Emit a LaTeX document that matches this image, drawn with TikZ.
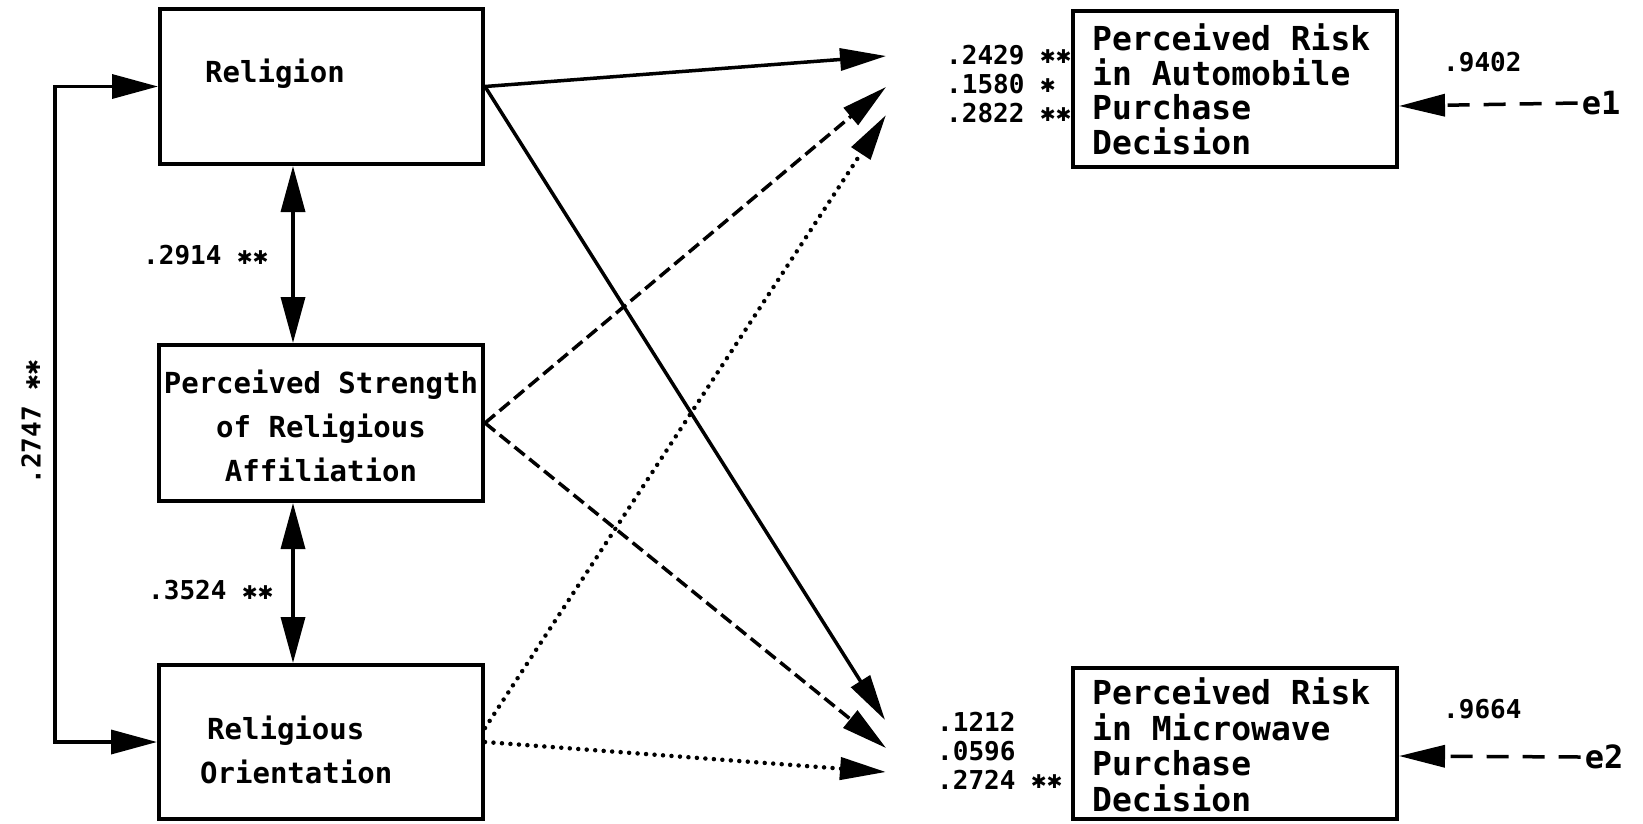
\documentclass[tikz,border=0pt]{standalone}
\usepackage{fontspec}
\newfontfamily\pf{DejaVu Sans Mono}
\newfontfamily\djs{DejaVu Sans}
\usetikzlibrary{arrows.meta}
\newcommand{\stx}{\makebox[0.6em]{\raisebox{0.5pt}{\djs\fontsize{19}{19}\selectfont ✱}}}
\begin{document}
\begin{tikzpicture}[x=1pt,y=-1pt,
 box/.style={draw,line width=4pt,inner sep=0pt},
 con/.style={line width=3.5pt,-{Triangle[length=46pt,width=22pt]}},
 dual/.style={line width=3.5pt,{Triangle[length=46pt,width=24pt]}-{Triangle[length=46pt,width=24pt]}},
 dsh/.style={dash pattern=on 13pt off 6pt},
 dshe/.style={dash pattern=on 22pt off 14pt},
 dts/.style={line width=4.5pt,line cap=round,dash pattern=on 0pt off 8.5pt},
 lt/.style={font=\pf\bfseries\fontsize{29}{44}\selectfont,inner sep=0pt},
 rta/.style={font=\pf\bfseries\fontsize{33}{34.5}\selectfont,inner sep=0pt,align=left},
 rtm/.style={font=\pf\bfseries\fontsize{33}{35.5}\selectfont,inner sep=0pt,align=left},
 num/.style={font=\pf\bfseries\fontsize{26}{29}\selectfont,inner sep=0pt},
 et/.style={font=\pf\bfseries\fontsize{32}{36}\selectfont,inner sep=0pt},
]
\fill[white] (0,0) rectangle (1643,823);
\useasboundingbox (0,0) rectangle (1643,823);

% boxes
\node[box,minimum width=323pt,minimum height=155pt] (rel) at (321.5,86.5) {};
\node[box,minimum width=324pt,minimum height=156pt] (str) at (321,423) {};
\node[box,minimum width=324pt,minimum height=154pt] (ori) at (321,742) {};
\node[box,minimum width=324pt,minimum height=156pt] (auto) at (1235,89) {};
\node[box,minimum width=324pt,minimum height=151pt] (micro) at (1235,743.5) {};

% box texts
\node[lt,anchor=base west] (trel) at (205,82.5) {Religion};
\node[lt,align=center] (tstr) at (321,425.5) {Perceived Strength\\of Religious\\Affiliation};
\node[lt,align=left,anchor=west] (tori) at (200,750) {\hspace*{7pt}Religious\\Orientation};
\node[rta,anchor=west] (tauto) at (1092,89.5) {Perceived Risk\\in Automobile\\Purchase\\Decision};
\node[rtm,anchor=west] (tmicro) at (1092,745) {Perceived Risk\\in Microwave\\Purchase\\Decision};

% coefficient labels
\node[num,anchor=base west] (l1) at (143,264.5) {.2914 \stx\stx};
\node[num,anchor=base west] (l2) at (148,599.5) {.3524 \stx\stx};
\node[num,rotate=90] (l3) at (31,422) {.2747 \stx\stx};
\node[num,align=left,anchor=west] (la) at (946,84) {.2429 \stx\stx\\.1580 \stx\\.2822 \stx\stx};
\node[num,align=left,anchor=west] (lm) at (937,750.5) {.1212\\.0596\\.2724 \stx\stx};
\node[num,anchor=base west] (n1) at (1443,71.5) {.9402};
\node[num,anchor=base west] (n2) at (1443,718.5) {.9664};

% error terms
\node[et] (e1) at (1601,103) {e1};
\node[et] (e2) at (1604,757) {e2};
\draw[con,dshe] ([xshift=-4pt]e1.west) -- ([yshift=-17pt]auto.east);
\draw[con,dshe] ([xshift=-4pt]e2.west) -- ([yshift=-12.5pt]micro.east);

% arrow tip points
\coordinate (t1) at (886,56);
\coordinate (t2) at (886,87);
\coordinate (t3) at (886,115);
\coordinate (t4) at (885,720);
\coordinate (t5) at (886,748);
\coordinate (t6) at (886,772);

\draw[con] (rel.east) -- (t1);
\draw[con] (rel.east) -- (t4);
\draw[con,dsh] (str.east) -- (t2);
\draw[con,dsh] (str.east) -- (t5);
\draw[con,dts] ([yshift=14pt]ori.east) -- (t3);
\draw[con,dts] (ori.east) -- (t6);

% correlations
\draw[dual] ([xshift=-28.5pt]rel.south) -- ([xshift=-28pt]str.north);
\draw[dual] ([xshift=-28pt]str.south) -- ([xshift=-28pt]ori.north);
\coordinate (lb) at (55,400);
\draw[dual] (rel.west) -| (lb) |- (ori.west);
\end{tikzpicture}
\end{document}
